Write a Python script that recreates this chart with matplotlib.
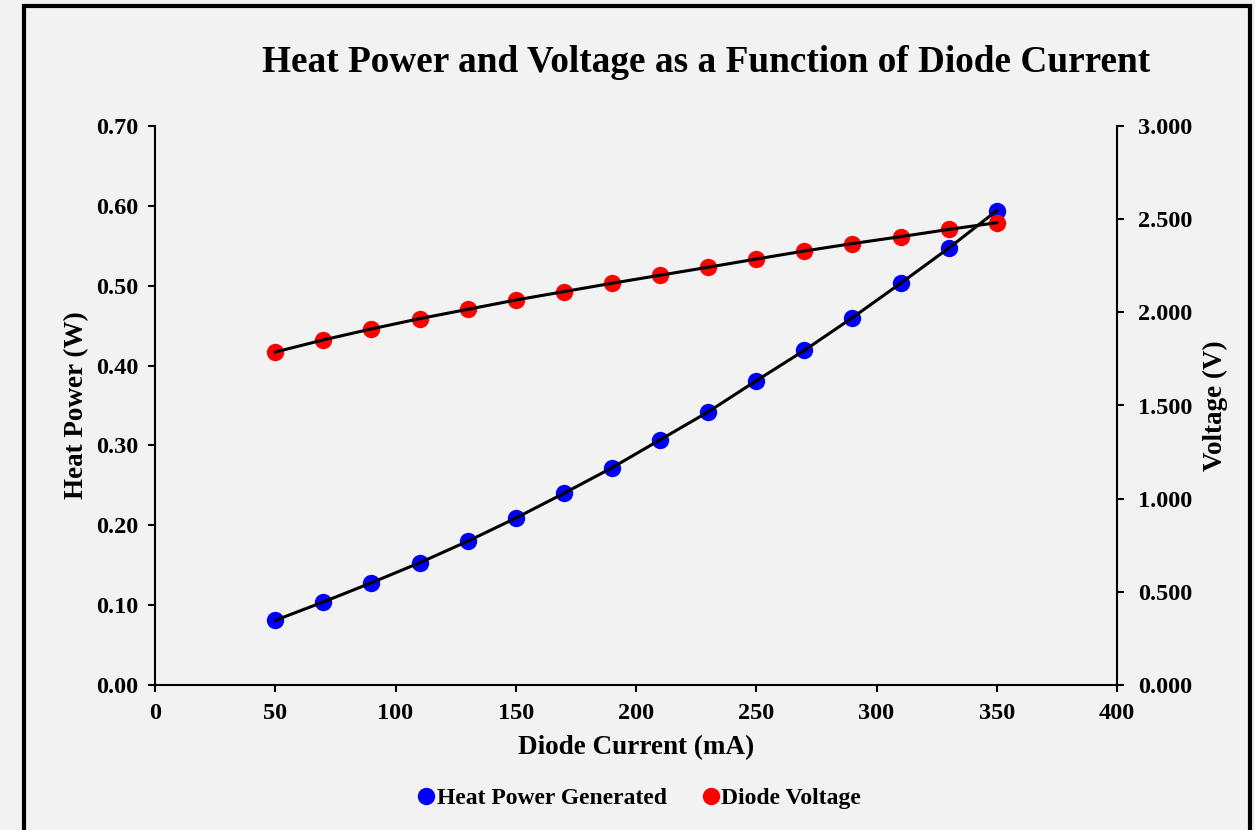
import matplotlib
matplotlib.use("Agg")
import matplotlib.pyplot as plt
from matplotlib.lines import Line2D
from matplotlib.patches import Rectangle

current_mA = [50, 70, 90, 110, 130, 150, 170, 190, 210, 230, 250, 270, 290, 310, 330, 350]
heat_power_W = [0.081, 0.104, 0.128, 0.153, 0.180, 0.209, 0.240, 0.272, 0.307, 0.342,
                0.381, 0.419, 0.460, 0.503, 0.547, 0.594]
voltage_V = [1.787, 1.852, 1.911, 1.966, 2.016, 2.066, 2.111, 2.156, 2.199, 2.242,
             2.286, 2.329, 2.369, 2.406, 2.445, 2.481]

x_ticks = [0, 50, 100, 150, 200, 250, 300, 350, 400]
left_ticks = [0.00, 0.10, 0.20, 0.30, 0.40, 0.50, 0.60, 0.70]
right_ticks = [0.0, 0.5, 1.0, 1.5, 2.0, 2.5, 3.0]

plt.rcParams['font.family'] = ['Liberation Serif', 'DejaVu Serif']
plt.rcParams['font.weight'] = 'bold'

bg = '#f2f2f2'
fig = plt.figure(figsize=(12.55, 8.3), dpi=100, facecolor=bg)
ax = fig.add_axes([155/1255, 1-685/830, (1117-155)/1255, (685-126)/830])
ax.set_facecolor(bg)
ax2 = ax.twinx()

ms = 11.5
lw = 2.2
ax.plot(current_mA, heat_power_W, 'o', color='#0000ff', markersize=ms, zorder=2)
ax.plot(current_mA, heat_power_W, '-', color='black', linewidth=lw, zorder=3)
ax2.plot(current_mA, voltage_V, 'o', color='#ff0000', markersize=ms, zorder=2)
ax2.plot(current_mA, voltage_V, '-', color='black', linewidth=lw, zorder=3)

ax.set_xlim(0, 400)
ax.set_ylim(0, 0.70)
ax2.set_ylim(0, 3.0)
ax.set_xticks(x_ticks)
ax.set_xticklabels([str(v) for v in x_ticks])
ax.set_yticks(left_ticks)
ax.set_yticklabels([f"{v:.2f}" for v in left_ticks])
ax2.set_yticks(right_ticks)
ax2.set_yticklabels([f"{v:.3f}" for v in right_ticks])

fs_tick = 17.5
fs_lab = 19.5
for a in (ax, ax2):
    a.spines['top'].set_visible(False)
    for s in a.spines.values():
        s.set_linewidth(1.5)
    a.tick_params(length=5, width=1.5, labelsize=fs_tick, direction='out')
ax.spines['right'].set_visible(False)
ax2.spines['left'].set_visible(False)
ax2.spines['bottom'].set_visible(False)
ax.tick_params(axis='y', pad=7)
ax.tick_params(axis='x', pad=8)
ax2.tick_params(axis='y', pad=10)

for lbl in ax.get_xticklabels() + ax.get_yticklabels() + ax2.get_yticklabels():
    lbl.set_fontweight('bold')

ax.set_xlabel('Diode Current (mA)', fontsize=fs_lab, fontweight='bold', labelpad=8)
ax.set_ylabel('Heat Power (W)', fontsize=fs_lab, fontweight='bold', labelpad=5)
ax2.set_ylabel('Voltage (V)', fontsize=fs_lab, fontweight='bold', labelpad=8)

fig.text(706/1255, 1-62/830, 'Heat Power and Voltage as a Function of Diode Current',
         fontsize=26.8, fontweight='bold', ha='center', va='center')

handles = [Line2D([], [], marker='o', linestyle='none', color='#0000ff', markersize=ms),
           Line2D([], [], marker='o', linestyle='none', color='#ff0000', markersize=ms)]
fig.legend(handles, ['Heat Power Generated', 'Diode Voltage'], loc='center',
           bbox_to_anchor=(640/1255, 1-798/830), ncol=2, frameon=False,
           prop={'family': 'Liberation Serif', 'weight': 'bold', 'size': 17},
           handlelength=0.6, handletextpad=0.15, columnspacing=1.55)

fig.patches.append(Rectangle((24/1255, -0.05), (1250-24)/1255, 1.05 - 6/830,
                             transform=fig.transFigure, fill=False,
                             edgecolor='black', linewidth=3))

fig.savefig('out.png', dpi=100, facecolor=bg)
